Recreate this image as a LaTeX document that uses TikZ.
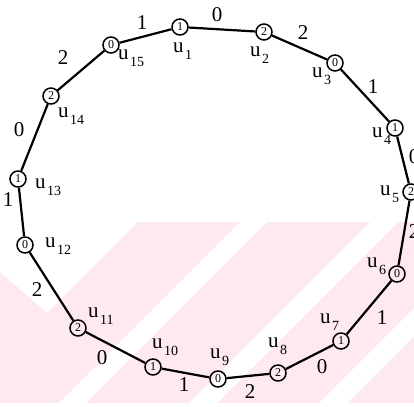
\documentclass[tikz,border=0pt]{standalone}
\usepackage{fontspec}
\setmainfont{Liberation Serif}
\definecolor{wm}{RGB}{253,233,238}
\newcommand\ulab[1]{u\kern1.5pt\raisebox{-7pt}{\fontsize{14}{14}\selectfont #1}}
\begin{document}
\begin{tikzpicture}[x=1pt,y=-1pt,
  vtx/.style={circle,draw,line width=1.5pt,minimum size=16pt,inner sep=0pt,font=\fontsize{12}{12}\selectfont},
  lab/.style={anchor=base west,inner sep=0pt,font=\fontsize{21}{21}\selectfont},
  elab/.style={inner sep=0pt,font=\fontsize{21}{21}\selectfont},
  edgeline/.style={line width=2.2pt}]
\useasboundingbox (0,0) rectangle (414,406);
\clip (0,0) rectangle (414,406);
% faint watermark
\begin{scope}
  \clip (0,272) -- (47,313) -- (138,222) -- (414,222) -- (414,403) -- (0,403) -- cycle;
  \fill[wm] (0,222) rectangle (414,403);
  \fill[white] (240,222) -- (267,222) -- (86,403) -- (59,403) -- cycle;
  \fill[white] (370,222) -- (398,222) -- (217,403) -- (189,403) -- cycle;
  \fill[white] (500,222) -- (528,222) -- (347,403) -- (319,403) -- cycle;
\end{scope}
% vertices
\node[vtx] (u1) at (180,27) {1};
\node[vtx] (u2) at (264,32) {2};
\node[vtx] (u3) at (335,63) {0};
\node[vtx] (u4) at (395,128) {1};
\node[vtx] (u5) at (411,192) {2};
\node[vtx] (u6) at (397,274) {0};
\node[vtx] (u7) at (341,341) {1};
\node[vtx] (u8) at (278,373) {2};
\node[vtx] (u9) at (218,379) {0};
\node[vtx] (u10) at (153,367) {1};
\node[vtx] (u11) at (78,328) {2};
\node[vtx] (u12) at (25,245) {0};
\node[vtx] (u13) at (18,179) {1};
\node[vtx] (u14) at (51,96) {2};
\node[vtx] (u15) at (111,45) {0};
% edges
\draw[edgeline] (u1) -- (u2) -- (u3) -- (u4) -- (u5) -- (u6) -- (u7) -- (u8)
  -- (u9) -- (u10) -- (u11) -- (u12) -- (u13) -- (u14) -- (u15) -- (u1);
% vertex names
\node[lab] (l1) at (173,53) {\ulab{1}};
\node[lab] (l2) at (250,57) {\ulab{2}};
\node[lab] (l3) at (312,78) {\ulab{3}};
\node[lab] (l4) at (372,138) {\ulab{4}};
\node[lab] (l5) at (380,195) {\ulab{5}};
\node[lab] (l6) at (367,267) {\ulab{6}};
\node[lab] (l7) at (320,323) {\ulab{7}};
\node[lab] (l8) at (268,347) {\ulab{8}};
\node[lab] (l9) at (210,358) {\ulab{9}};
\node[lab] (l10) at (152,348) {\ulab{10}};
\node[lab] (l11) at (88,317) {\ulab{11}};
\node[lab] (l12) at (45,247) {\ulab{12}};
\node[lab] (l13) at (35,188) {\ulab{13}};
\node[lab] (l14) at (58,118) {\ulab{14}};
\node[lab] (l15) at (118,60) {\ulab{15}};
% edge weights
\node[elab] (e1) at (217,15) {0};
\node[elab] (e2) at (303,33) {2};
\node[elab] (e3) at (373,87) {1};
\node[elab] (e4) at (414,157) {0};
\node[elab] (e5) at (414,232) {2};
\node[elab] (e6) at (382,318) {1};
\node[elab] (e7) at (322,367) {0};
\node[elab] (e8) at (250,392) {2};
\node[elab] (e9) at (184,385) {1};
\node[elab] (e10) at (102,358) {0};
\node[elab] (e11) at (37,290) {2};
\node[elab] (e12) at (8,200) {1};
\node[elab] (e13) at (19,130) {0};
\node[elab] (e14) at (63,58) {2};
\node[elab] (e15) at (142,23) {1};
\end{tikzpicture}
\end{document}
